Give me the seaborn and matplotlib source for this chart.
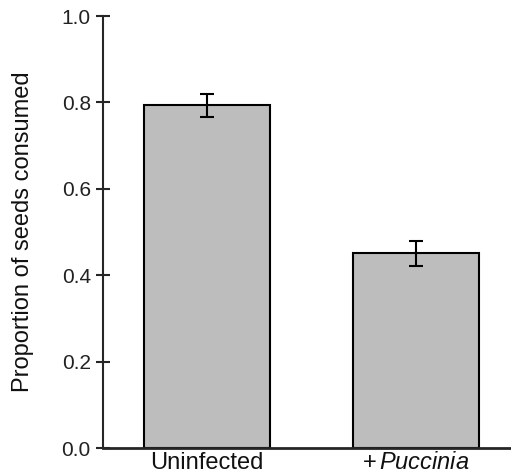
import matplotlib
matplotlib.use("Agg")
import matplotlib.pyplot as plt
import seaborn as sns
import pandas as pd

# data
treatments = ["Uninfected", "+Puccinia"]
proportion = [0.793, 0.451]
sem = [0.027, 0.029]
tick_labels = ["Uninfected", r"+$\,\mathit{Puccinia}$"]

sns.set_style("ticks")
plt.rcParams["font.family"] = ["Liberation Sans", "DejaVu Sans"]
plt.rcParams["mathtext.fontset"] = "custom"
plt.rcParams["mathtext.rm"] = "Liberation Sans"
plt.rcParams["mathtext.it"] = "Liberation Sans:italic"

df = pd.DataFrame({"treatment": treatments, "proportion": proportion})

fig = plt.figure(figsize=(5.11, 4.73), dpi=100)
ax = fig.add_axes([103 / 511, 25 / 473, 408 / 511, 432 / 473])

sns.barplot(data=df, x="treatment", y="proportion", color="#bdbdbd",
            edgecolor="black", linewidth=1.5, width=0.6, saturation=1,
            errorbar=None, ax=ax)
ax.errorbar(range(len(proportion)), proportion, yerr=sem, fmt="none",
            ecolor="black", elinewidth=1.5, capsize=5, capthick=1.5)

ax.set_xlim(-0.498, 1.455)
ax.set_ylim(0, 1.0)
yticks = [0.0, 0.2, 0.4, 0.6, 0.8, 1.0]
ax.set_yticks(yticks)
ax.set_yticklabels([f"{v:.1f}" for v in yticks], fontsize=15, color="#222222")
ax.set_xticks([0, 1])
ax.set_xticklabels(tick_labels, fontsize=17, color="#111111")
ax.tick_params(axis="y", direction="inout", length=9.5, width=1.5, pad=4)
ax.tick_params(axis="x", length=0, pad=3)
ax.set_xlabel("")
ax.set_ylabel("Proportion of seeds consumed", fontsize=17, labelpad=20,
              color="#111111")

sns.despine(ax=ax, top=True, right=True)
ax.spines["left"].set_linewidth(1.5)
ax.spines["bottom"].set_linewidth(2)

fig.savefig("out.png", dpi=100)
